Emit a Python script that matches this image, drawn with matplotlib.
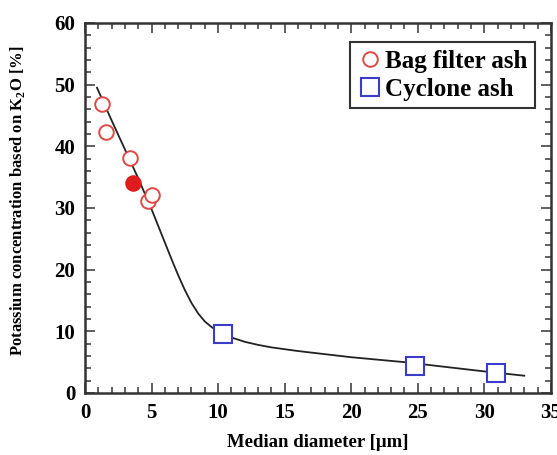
import matplotlib
matplotlib.use("Agg")
import matplotlib.pyplot as plt
from matplotlib.ticker import MultipleLocator

# Data
bag_x = [1.3, 1.6, 3.4, 4.75, 5.05]
bag_y = [46.8, 42.4, 38.1, 31.1, 32.1]
bag_filled_x = [3.6]
bag_filled_y = [34.0]
cyclone_x = [10.4, 24.8, 30.9]
cyclone_y = [9.6, 4.3, 3.3]
# fitted curve as drawn in the figure
curve_x = [0.9, 2.0, 3.0, 4.0, 5.0, 5.5, 6.0, 6.5, 7.0, 7.5, 8.0, 8.5, 9.0,
           9.5, 10.0, 10.5, 11.0, 12.0, 13.0, 14.0, 16.0, 18.0, 20.0, 22.0,
           24.0, 26.0, 28.0, 30.0, 33.0]
curve_y = [49.5, 44.2, 39.5, 34.8, 29.8, 27.1, 24.4, 21.7, 19.1, 16.7, 14.6,
           12.9, 11.6, 10.7, 10.0, 9.5, 9.0, 8.3, 7.8, 7.4, 6.8, 6.3, 5.8, 5.4,
           5.0, 4.5, 4.0, 3.5, 2.8]

plt.rcParams['font.family'] = ['Liberation Serif', 'DejaVu Serif']
plt.rcParams['font.weight'] = 'bold'
plt.rcParams['mathtext.fontset'] = 'custom'
plt.rcParams['mathtext.bf'] = 'Liberation Serif:bold'
plt.rcParams['mathtext.rm'] = 'Liberation Serif:bold'

red = '#dc4a45'
blue = '#3b3bcc'

fig = plt.figure(figsize=(5.57, 4.55), dpi=100)
ax = fig.add_axes([0.1526, 0.1363, 0.8364, 0.8132])

ax.plot(curve_x, curve_y, color='#222222', lw=1.3, zorder=1)
ax.plot(bag_x, bag_y, 'o', ms=10.5, mfc='white', mec=red, mew=1.4,
        label='Bag filter ash', zorder=3)
ax.plot(bag_filled_x, bag_filled_y, 'o', ms=10.5, mfc='#e01b1b', mec='#e01b1b',
        mew=1.4, zorder=3)
ax.plot(cyclone_x, cyclone_y, 's', ms=12.5, mfc='white', mec=blue, mew=1.5,
        label='Cyclone ash', zorder=3)

ax.set_xlim(0, 35)
ax.set_ylim(0, 60)
ax.xaxis.set_major_locator(MultipleLocator(5))
ax.xaxis.set_minor_locator(MultipleLocator(1))
ax.yaxis.set_major_locator(MultipleLocator(10))
ax.yaxis.set_minor_locator(MultipleLocator(2))
ax.tick_params(which='both', direction='in', top=True, right=True,
               color='#444444', width=1.2)
ax.tick_params(which='major', length=7, labelsize=15, pad=7)
ax.tick_params(which='minor', length=4)
for lab in ax.get_xticklabels() + ax.get_yticklabels():
    lab.set_fontweight('bold')
for sp in ax.spines.values():
    sp.set_linewidth(1.8)
    sp.set_color('#333333')

ax.set_xlabel('Median diameter [\u03bcm]', fontsize=13.5, fontweight='bold')
ax.xaxis.set_label_coords(0.5, -0.11)
ax.set_ylabel('Potassium concentration based on K$_\\mathbf{2}$O [%]',
              fontsize=12, fontweight='bold')
ax.yaxis.set_label_coords(-0.125, 0.52)

leg = ax.legend(loc='upper right', bbox_to_anchor=(0.982, 0.968), fontsize=18,
                handletextpad=0.1, handlelength=1.0, borderpad=0.3,
                labelspacing=0.2, borderaxespad=0.3, fancybox=False,
                edgecolor='#333333', framealpha=1)
leg.get_frame().set_linewidth(1.5)
for t in leg.get_texts():
    t.set_fontweight('bold')

fig.savefig('out.png', dpi=100)
